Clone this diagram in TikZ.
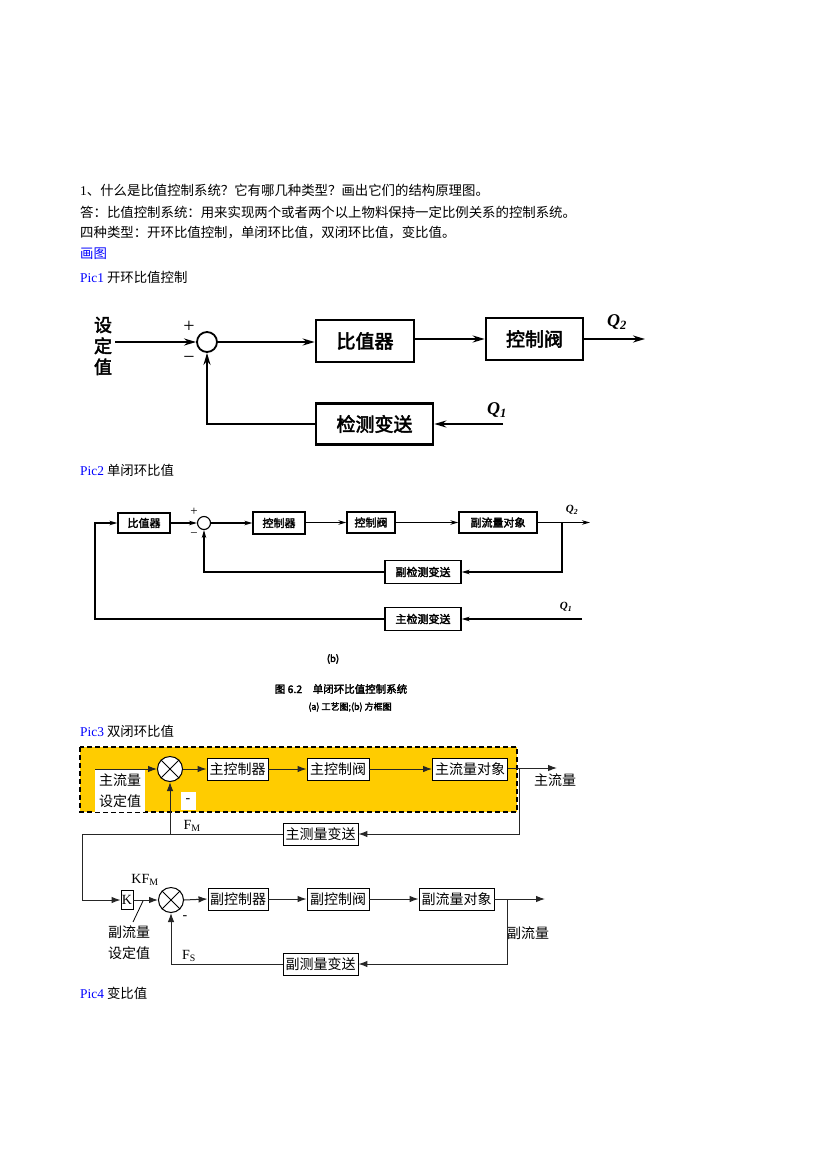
\documentclass[tikz,border=0pt]{standalone}
\usepackage{fontspec}
\setmainfont{Liberation Serif}
\newfontfamily\cjk{Noto Sans CJK SC}
\newfontfamily\cjkb[FakeBold=2.5]{Noto Sans CJK SC}
\usetikzlibrary{arrows.meta}
\definecolor{linkblue}{RGB}{0,0,255}
\definecolor{hl}{RGB}{255,204,0}
\begin{document}
\begin{tikzpicture}[x=1pt,y=-1pt,
  txt/.style={anchor=west,inner sep=0pt,font=\fontsize{13.4}{16}\selectfont\cjk},
  p1box/.style={draw,line width=2.6pt,inner sep=0pt,font=\fontsize{19}{21}\selectfont\cjkb},
  p1line/.style={line width=2pt},
  p1arr/.style={p1line,-{Stealth[length=12pt,width=7pt]}},
  p1lbl/.style={inner sep=0pt,font=\fontsize{18}{20}\selectfont\bfseries\itshape},
  p2box/.style={draw,line width=1.3pt,inner sep=0pt,font=\fontsize{11}{12}\selectfont\cjkb},
  p2line/.style={line width=1.1pt},
  p2arr/.style={p2line,-{Stealth[length=8pt,width=4.5pt]}},
  p2lbl/.style={inner sep=0pt,font=\fontsize{11}{12}\selectfont\bfseries\itshape},
  captxt/.style={inner sep=0pt,font=\fontsize{9.5}{11}\selectfont\cjkb},
  p3box/.style={draw,line width=0.9pt,fill=white,inner sep=0pt,minimum height=22pt,font=\fontsize{14}{16}\selectfont\cjk},
  p3line/.style={line width=1pt,draw=black!85},
  p3arr/.style={p3line,-{Latex[length=9pt,width=6.5pt]}},
  p3txt/.style={inner sep=0pt,font=\fontsize{14}{16}\selectfont\cjk},
  p3lat/.style={inner sep=0pt,font=\fontsize{14}{16}\selectfont}
]
\useasboundingbox[fill=white] (0,0) rectangle (826,1169);

% ---------------- text ----------------
\node[txt] (t1) at (80,190) {{\rmfamily 1}、什么是比值控制系统？它有哪几种类型？画出它们的结构原理图。};
\node[txt] (t2) at (80,212) {答：比值控制系统：用来实现两个或者两个以上物料保持一定比例关系的控制系统。};
\node[txt] (t3) at (80,233) {四种类型：开环比值控制，单闭环比值，双闭环比值，变比值。};
\node[txt,text=linkblue] (t4) at (80,254) {画图};
\node[txt] (t5) at (80,277) {{\rmfamily\color{linkblue}Pic1} 开环比值控制};
\node[txt] (t6) at (80,470) {{\rmfamily\color{linkblue}Pic2} 单闭环比值};
\node[txt] (t7) at (80,731) {{\rmfamily\color{linkblue}Pic3} 双闭环比值};
\node[txt] (t8) at (80,993) {{\rmfamily\color{linkblue}Pic4} 变比值};

% ---------------- Pic1 ----------------
\node[inner sep=0pt,align=center,font=\fontsize{18}{21}\selectfont\cjkb] (sv1) at (103,346) {设\\定\\值};
\coordinate (in1) at (115,342);
\node[draw,circle,line width=1.8pt,minimum size=20pt,inner sep=0pt] (s1) at (207,342) {};
\node[inner sep=0pt,font=\fontsize{20}{20}\selectfont] (pl1) at (189,327) {+};
\node[inner sep=0pt,font=\fontsize{20}{20}\selectfont] (mi1) at (189,360) {\textminus};
\node[p1box,minimum width=98pt,minimum height=42pt] (b1) at (365,341) {比值器};
\node[p1box,minimum width=97pt,minimum height=42pt] (b2) at (534.5,339) {控制阀};
\node[p1box,minimum width=117pt,minimum height=41pt] (b3) at (374.5,424) {检测变送};
\coordinate (out1) at (645,339);
\coordinate (q1in) at (503,424);
\node[p1lbl] (q2l) at (617,322) {Q\textsubscript{2}};
\node[p1lbl] (q1l) at (497,410) {Q\textsubscript{1}};
\draw[p1arr] (in1) -- (s1.west);
\draw[p1arr] (s1.east) -- (s1.east -| b1.west);
\draw[p1arr] (b1.east |- b2.west) -- (b2.west);
\draw[p1arr] (b2.east) -- (out1);
\draw[p1arr] (q1in) -- (b3.east);
\draw[p1arr] (b3.west) -| (s1.south);

% ---------------- Pic2 ----------------
\node[p2box,minimum width=52pt,minimum height=20pt] (c1) at (144,523) {比值器};
\node[draw,circle,line width=1.1pt,minimum size=13pt,inner sep=0pt] (s2) at (204,523) {};
\node[inner sep=0pt,font=\fontsize{13}{13}\selectfont] (pl2) at (194,512) {+};
\node[inner sep=0pt,font=\fontsize{13}{13}\selectfont] (mi2) at (194,535) {\textminus};
\node[p2box,minimum width=52pt,minimum height=22pt] (c2) at (279,523) {控制器};
\node[p2box,minimum width=48pt,minimum height=21pt] (c3) at (371,522.5) {控制阀};
\node[p2box,minimum width=78pt,minimum height=21pt] (c4) at (498,522.5) {副流量对象};
\node[p2box,minimum width=76pt,minimum height=23pt] (c5) at (423,572) {副检测变送};
\node[p2box,minimum width=76pt,minimum height=23pt] (c6) at (423,619) {主检测变送};
\coordinate (out2) at (590,522.5);
\coordinate (br2) at (562,522.5);
\coordinate (q1in2) at (582,619);
\coordinate (lft2) at (95,619);
\node[p2lbl] (q2l2) at (572,510) {Q\textsubscript{2}};
\node[p2lbl] (q1l2) at (566,607) {Q\textsubscript{1}};
\draw[p2arr] (c1.east |- s2.west) -- (s2.west);
\draw[p2arr] (s2.east) -- (s2.east -| c2.west);
\draw[p2arr] (c2.east |- c3.west) -- (c3.west);
\draw[p2arr] (c3.east) -- (c4.west);
\draw[p2arr] (c4.east) -- (out2);
\draw[p2arr] (br2) |- (c5.east);
\draw[p2arr] (c5.west) -| (s2.south);
\draw[p2arr] (q1in2) -- (c6.east);
\draw[p2arr] (c6.west) -- (lft2) |- (c1.west);
\node[captxt] (capb) at (333,659) {(b)};
\node[captxt,font=\fontsize{10.5}{12}\selectfont\cjkb] (cap1) at (341,689) {图 6.2\quad 单闭环比值控制系统};
\node[captxt,font=\fontsize{9}{11}\selectfont\cjkb] (cap2) at (350,707) {(a) 工艺图;(b) 方框图};

% ---------------- Pic3 ----------------
\fill[hl] (80,747) rectangle (517,812);
\draw[dashed,line width=1.1pt,dash pattern=on 5pt off 3pt] (80,747) rectangle (517,812);
\node[fill=white,inner sep=0pt,minimum width=50pt,minimum height=42pt,align=center,
      font=\fontsize{14}{21}\selectfont\cjk] (msv) at (120,791) {主流量\\设定值};
\node[fill=white,inner sep=0pt,minimum width=15pt,minimum height=18pt,font=\fontsize{14}{16}\selectfont] (mm) at (188,801) {-};
\coordinate (in3) at (95,769);
\node[draw,circle,fill=white,line width=1pt,minimum size=25pt,inner sep=0pt] (s3) at (170,769) {};
\draw[line width=1pt] (s3.north west) -- (s3.south east) (s3.north east) -- (s3.south west);
\node[p3box,minimum width=61pt] (m1) at (237.5,769) {主控制器};
\node[p3box,minimum width=62pt] (m2) at (338,769) {主控制阀};
\node[p3box,minimum width=75pt] (m3) at (470,769) {主流量对象};
\node[p3box,minimum width=75pt] (m4) at (320.5,834) {主测量变送};
\coordinate (out3) at (557,768);
\coordinate (br3) at (519,768);
\coordinate (fb3) at (82,834);
\node[p3txt] (mout) at (555,780) {主流量};
\node[p3lat] (fm) at (192,826) {F\textsubscript{M}};
\draw[p3arr] (in3) -- (s3.west);
\draw[p3arr] (s3.east) -- (m1.west);
\draw[p3arr] (m1.east) -- (m2.west);
\draw[p3arr] (m2.east) -- (m3.west);
\draw[p3arr] (m3.east |- out3) -- (out3);
\draw[p3arr] (br3) |- (m4.east);
\draw[p3arr] (m4.west) -| (s3.south);

\node[draw,line width=0.9pt,inner sep=0pt,minimum width=12pt,minimum height=19pt,font=\fontsize{14}{16}\selectfont] (k) at (127,900) {K};
\node[p3lat] (kfm) at (145,880) {KF\textsubscript{M}};
\node[draw,circle,fill=white,line width=1pt,minimum size=25pt,inner sep=0pt] (s4) at (171,900) {};
\draw[line width=1pt] (s4.north west) -- (s4.south east) (s4.north east) -- (s4.south west);
\node[inner sep=0pt,font=\fontsize{14}{16}\selectfont] (sm) at (185,918) {-};
\node[p3box,minimum width=60pt] (d1) at (238,899) {副控制器};
\node[p3box,minimum width=62pt] (d2) at (338,899) {副控制阀};
\node[p3box,minimum width=75pt] (d3) at (456.5,899) {副流量对象};
\node[p3box,minimum width=75pt] (d4) at (320.5,964) {副测量变送};
\coordinate (out4) at (545,899);
\coordinate (br4) at (507,899);
\coordinate (ld1) at (143,901);
\coordinate (ld2) at (133,922);
\node[align=center,inner sep=0pt,font=\fontsize{14}{21}\selectfont\cjk] (ssv) at (129,943) {副流量\\设定值};
\node[p3txt] (sout) at (528,933) {副流量};
\node[p3lat] (fs) at (189,956) {F\textsubscript{S}};
\draw[p3arr] (fb3) |- (k.west);
\draw[p3line] (m4.west) -- (fb3);
\draw[p3arr] (k.east) -- (s4.west);
\draw[line width=0.8pt] (ld2) -- (ld1);
\draw[p3arr] (s4.east) -- (d1.west);
\draw[p3arr] (d1.east) -- (d2.west);
\draw[p3arr] (d2.east) -- (d3.west);
\draw[p3arr] (d3.east) -- (out4);
\draw[p3arr] (br4) |- (d4.east);
\draw[p3arr] (d4.west) -| (s4.south);
\end{tikzpicture}
\end{document}
